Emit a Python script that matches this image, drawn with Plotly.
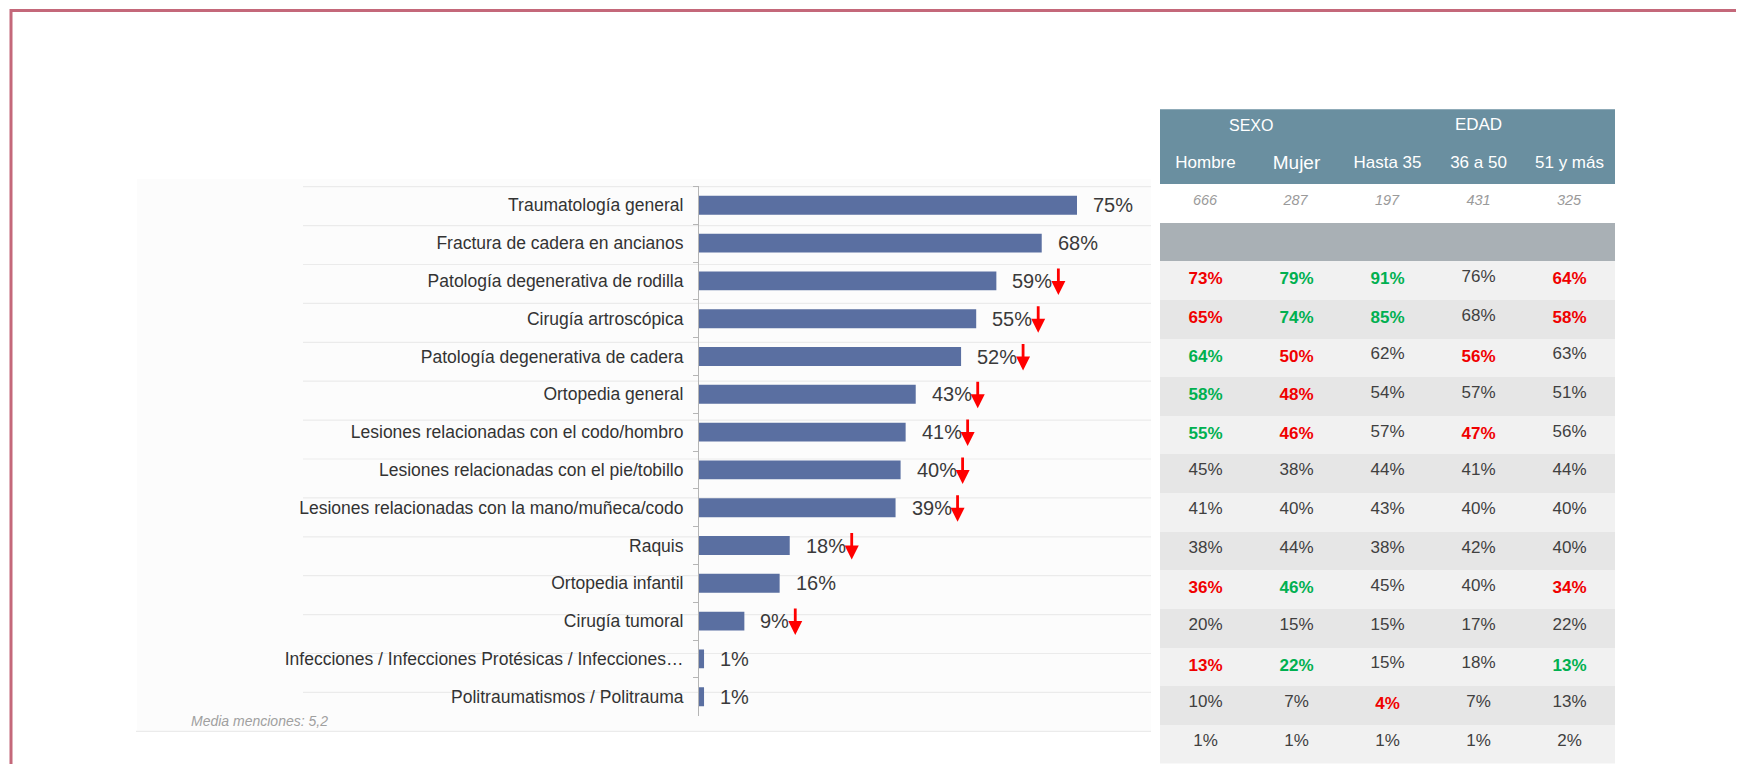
import plotly.graph_objects as go

# the page adds an 8px body margin, so the figure is 8px smaller than the window
W, H = 1736, 756
OFF = 8
FONT = "Liberation Sans, Arial, sans-serif"

# bar chart data, top to bottom
categorias = [
    "Traumatología general",
    "Fractura de cadera en ancianos",
    "Patología degenerativa de rodilla",
    "Cirugía artroscópica",
    "Patología degenerativa de cadera",
    "Ortopedia general",
    "Lesiones relacionadas con el codo/hombro",
    "Lesiones relacionadas con el pie/tobillo",
    "Lesiones relacionadas con la mano/muñeca/codo",
    "Raquis",
    "Ortopedia infantil",
    "Cirugía tumoral",
    "Infecciones / Infecciones Protésicas / Infecciones…",
    "Politraumatismos / Politrauma",
]
porcentajes = [75, 68, 59, 55, 52, 43, 41, 40, 39, 18, 16, 9, 1, 1]
baja = [0, 0, 1, 1, 1, 1, 1, 1, 1, 1, 0, 1, 0, 0]  # red down arrow

# table data (1 = significantly higher, -1 = lower)
columnas = ["Hombre", "Mujer", "Hasta 35", "36 a 50", "51 y más"]
base_n = [666, 287, 197, 431, 325]
hombre = [73, 65, 64, 58, 55, 45, 41, 38, 36, 20, 13, 10, 1]
hombre_sig = [-1, -1, 1, 1, 1, 0, 0, 0, -1, 0, -1, 0, 0]
mujer = [79, 74, 50, 48, 46, 38, 40, 44, 46, 15, 22, 7, 1]
mujer_sig = [1, 1, -1, -1, -1, 0, 0, 0, 1, 0, 1, 0, 0]
hasta35 = [91, 85, 62, 54, 57, 44, 43, 38, 45, 15, 15, 4, 1]
hasta35_sig = [1, 1, 0, 0, 0, 0, 0, 0, 0, 0, 0, -1, 0]
edad36_50 = [76, 68, 56, 57, 47, 41, 40, 42, 40, 17, 18, 7, 1]
edad36_50_sig = [0, 0, -1, 0, -1, 0, 0, 0, 0, 0, 0, 0, 0]
mas51 = [64, 58, 63, 51, 56, 44, 40, 40, 34, 22, 13, 13, 2]
mas51_sig = [-1, -1, 0, 0, 0, 0, 0, 0, -1, 0, 1, 0, 0]

datos = [hombre, mujer, hasta35, edad36_50, mas51]
sigs = [hombre_sig, mujer_sig, hasta35_sig, edad36_50_sig, mas51_sig]

def px(x):
    return (x - OFF) / W

def py(y):
    return 1 - (y - OFF) / H

fig = go.Figure()

fig.add_trace(go.Bar(
    x=porcentajes, y=categorias, orientation="h",
    marker=dict(color="#5a6fa1", line=dict(width=0)),
    width=0.5, hoverinfo="skip", showlegend=False,
))

anotaciones = []
for cat, v, b in zip(categorias, porcentajes, baja):
    txt = f"{v}%"
    anotaciones.append(dict(
        x=v, y=cat, xref="x", yref="y", text=txt, showarrow=False,
        xanchor="left", yanchor="middle", xshift=14,
        font=dict(size=20, color="#3a3a3a", family=FONT),
    ))
    if b:
        ancho = 11.1 * len(str(v)) + 17.8
        anotaciones.append(dict(
            x=v, y=cat, xref="x", yref="y", text="", showarrow=True,
            arrowhead=2, arrowsize=1, arrowwidth=2.8, arrowcolor="#ff0000",
            ax=0, ay=-28, xshift=22 + ancho, yshift=-14, standoff=0,
        ))

anotaciones.append(dict(
    x=px(189), y=py(721), xref="paper", yref="paper", text="<i>Media menciones: 5,2</i>",
    showarrow=False, xanchor="left", yanchor="middle",
    font=dict(size=14, color="#a0a0a0", family=FONT),
))

# table
tx0, tx1 = 1160, 1615
cab_top, cab_h = 109.3, 37.5
n_h, gris_h, fila_h = 38.3, 38.6, 38.65
fila_claro, fila_oscuro = "#f1f1f1", "#e6e6e6"
valores, colores, rellenos = [], [], []
for col in range(len(columnas)):
    v_col, c_col, f_col = [], [], []
    for i, (v, s) in enumerate(zip(datos[col], sigs[col])):
        if s == 1:
            v_col.append(f"<b>{v}%</b>")
            c_col.append("#00b050")
        elif s == -1:
            v_col.append(f"<b>{v}%</b>")
            c_col.append("#f00000")
        else:
            v_col.append(f"{v}%")
            c_col.append("#404040")
        f_col.append(fila_claro if i % 2 == 0 else fila_oscuro)
    valores.append(v_col)
    colores.append(c_col)
    rellenos.append(f_col)

cabecera = [["", c] for c in columnas]
cabecera[3][0] = "EDAD"

# header + sample size row
y_n = cab_top + 2 * cab_h + n_h
fig.add_trace(go.Table(
    domain=dict(x=[px(tx0), px(tx1)], y=[py(y_n), py(cab_top)]),
    header=dict(values=cabecera, fill_color="#6a8fa0", height=cab_h, align="center",
                line=dict(width=0, color="#6a8fa0"),
                font=dict(color="white", size=[17, 19, 17, 17, 17], family=FONT)),
    cells=dict(values=[[f"<i>{n}</i>"] for n in base_n], fill_color="#ffffff",
               height=n_h, align="center", line=dict(width=0, color="#ffffff"),
               font=dict(color="#9a9a9a", size=14.5, family=FONT)),
))

# grey band + body rows
y_fin = min(y_n + gris_h + len(valores[0]) * fila_h, OFF + H)
fig.add_trace(go.Table(
    domain=dict(x=[px(tx0), px(tx1)], y=[py(y_fin), py(y_n)]),
    header=dict(values=[[""] for _ in columnas], fill_color="#a9b0b5", height=gris_h,
                line=dict(width=0, color="#a9b0b5")),
    cells=dict(values=valores, fill_color=rellenos, height=fila_h, align="center",
               line=dict(width=0, color="#f1f1f1"),
               font=dict(color=colores, size=17, family=FONT)),
))

anotaciones.append(dict(
    x=px(tx0 + (tx1 - tx0) / len(columnas)), y=py(126), xref="paper", yref="paper",
    text="SEXO", showarrow=False, xanchor="center", yanchor="middle",
    font=dict(size=16, color="white", family=FONT),
))

# faint panel, row separators and frame
formas = [dict(type="rect", xref="paper", yref="paper", x0=px(137), x1=px(1151),
               y0=py(732), y1=py(179), fillcolor="#fcfcfc", line=dict(width=0), layer="below")]
for k in range(len(categorias) + 1):
    y = 186.7 + k * 38.9
    formas.append(dict(type="line", xref="paper", yref="paper",
                       x0=px(136 if k == len(categorias) else 303), x1=px(1151),
                       y0=py(y), y1=py(y), line=dict(color="#ebebeb", width=1.2), layer="below"))
formas.append(dict(type="rect", xref="paper", yref="paper",
                   x0=px(11), x1=px(1739.5), y0=-0.1, y1=py(10.5),
                   line=dict(color="#c4687a", width=3)))

fig.update_layout(
    width=W, height=H, margin=dict(l=0, r=0, t=0, b=0),
    paper_bgcolor="white", plot_bgcolor="rgba(0,0,0,0)",
    font=dict(family=FONT, color="#333333"),
    xaxis=dict(domain=[px(699), px(1152.6)], range=[0, 90], visible=False, fixedrange=True),
    yaxis=dict(domain=[py(715.6), py(186.4)], autorange="reversed", type="category",
               tickson="boundaries", ticks="outside", ticklen=5, tickcolor="#b5b5b5",
               showline=True, linecolor="#b5b5b5", linewidth=1, showgrid=False,
               ticklabelstandoff=11, tickfont=dict(size=17.5, color="#333333", family=FONT)),
    annotations=anotaciones,
    shapes=formas,
    bargap=0.5,
)

fig.write_html("out.html")
